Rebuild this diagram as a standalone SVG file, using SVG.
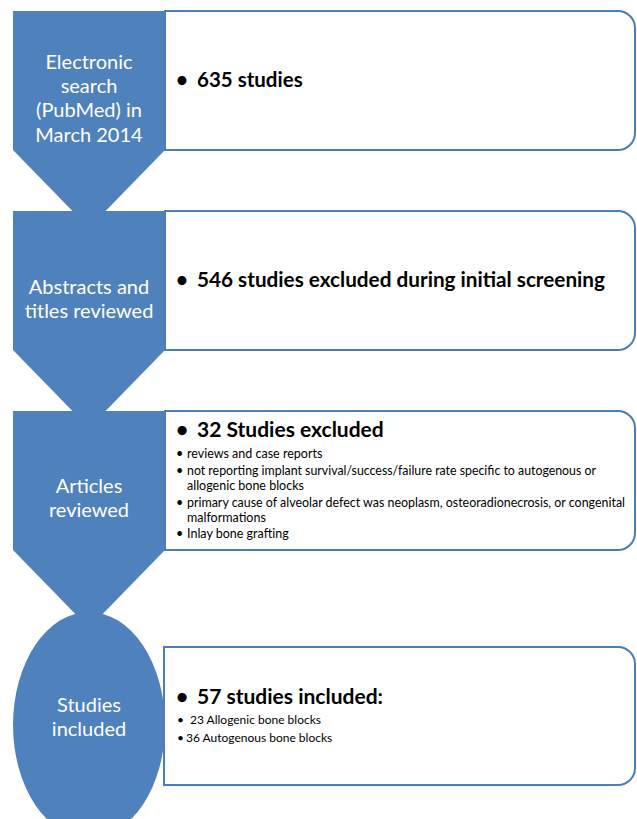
<svg xmlns="http://www.w3.org/2000/svg" width="637" height="819" viewBox="0 0 637 819">
<style>
.shape{fill:#4f81bd;stroke:none}
.box{fill:#ffffff;stroke:#4a7ebb;stroke-width:2}
.lbl{font-family:Lato,"Liberation Sans",sans-serif;font-size:20px;fill:#ffffff;text-anchor:middle}
.head{font-family:Lato,"Liberation Sans",sans-serif;font-weight:bold;font-size:20.5px;fill:#000000}
.big{font-family:Lato,"Liberation Sans",sans-serif;font-weight:bold;font-size:21px;fill:#000000}
.sub{font-family:Lato,"Liberation Sans",sans-serif;font-size:12.5px;fill:#000000}
.sub2{font-family:Lato,"Liberation Sans",sans-serif;font-size:12px;fill:#000000}
</style>
<rect width="637" height="819" fill="#ffffff"/>
<g id="connectors"></g>
<g id="stage1">
<polygon class="shape" points="13,11 165,11 165,150 89,228 13,150"/>
<path class="box" d="M165,11 H618 A17,17 0 0 1 635,28 V133 A17,17 0 0 1 618,150 H165 Z"/>
<text class="lbl" x="89" y="69">Electronic</text>
<text class="lbl" x="89" y="93">search</text>
<text class="lbl" x="89" y="117">(PubMed) in</text>
<text class="lbl" x="89" y="142">March 2014</text>
<text class="head" x="176" y="87">•</text>
<text class="head" x="197" y="87">635 studies</text>
</g>
<g id="stage2">
<polygon class="shape" points="13,211 165,211 165,350 89,428 13,350"/>
<path class="box" d="M165,211 H618 A17,17 0 0 1 635,228 V333 A17,17 0 0 1 618,350 H165 Z"/>
<text class="lbl" x="89" y="294">Abstracts and</text>
<text class="lbl" x="89" y="318">titles reviewed</text>
<text class="head" x="176" y="287">•</text>
<text class="head" x="197" y="287" textLength="408" lengthAdjust="spacingAndGlyphs">546 studies excluded during initial screening</text>
</g>
<g id="stage3">
<polygon class="shape" points="13,411 165,411 165,550 89,628 13,550"/>
<path class="box" d="M165,411 H618 A17,17 0 0 1 635,428 V533 A17,17 0 0 1 618,550 H165 Z"/>
<text class="lbl" x="89" y="493">Articles</text>
<text class="lbl" x="89" y="517">reviewed</text>
<text class="big" x="176" y="437">•</text>
<text class="big" x="197" y="437">32 Studies excluded</text>
<text class="sub" x="176" y="458">•</text>
<text class="sub" x="187" y="458">reviews and case reports</text>
<text class="sub" x="176" y="475">•</text>
<text class="sub" x="187" y="475" textLength="409" lengthAdjust="spacingAndGlyphs">not reporting implant survival/success/failure rate specific to autogenous or</text>
<text class="sub" x="187" y="490">allogenic bone blocks</text>
<text class="sub" x="176" y="507">•</text>
<text class="sub" x="187" y="507" textLength="438" lengthAdjust="spacingAndGlyphs">primary cause of alveolar defect was neoplasm, osteoradionecrosis, or congenital</text>
<text class="sub" x="187" y="522">malformations</text>
<text class="sub" x="176" y="538">•</text>
<text class="sub" x="187" y="538">Inlay bone grafting</text>
</g>
<g id="stage4">
<ellipse class="shape" cx="89" cy="725" rx="76" ry="113"/>
<path class="box" d="M164,647 H618 A17,17 0 0 1 635,664 V768 A17,17 0 0 1 618,785 H164 Z"/>
<text class="lbl" x="89" y="712">Studies</text>
<text class="lbl" x="89" y="736">included</text>
<text class="big" x="176" y="704">•</text>
<text class="big" x="197" y="704">57 studies included:</text>
<text class="sub2" x="177" y="724">•</text>
<text class="sub2" x="190" y="724">23 Allogenic bone blocks</text>
<text class="sub2" x="177" y="742">•</text>
<text class="sub2" x="186" y="742">36 Autogenous bone blocks</text>
</g>
</svg>
